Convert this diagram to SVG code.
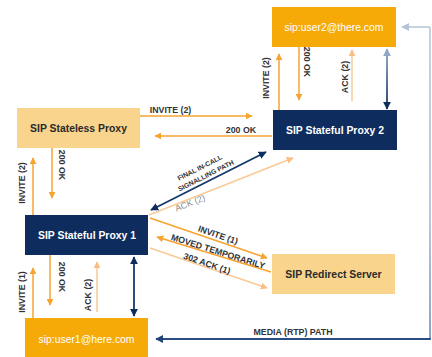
<svg xmlns="http://www.w3.org/2000/svg" width="432" height="357" viewBox="0 0 432 357">
<style>
.user{fill:#F6AA08}
.light{fill:#F9D48C}
.navy{fill:#0E2D5E}
.bt{font-family:"Liberation Sans",Arial,sans-serif;font-size:10.4px;text-anchor:middle}
.wt{fill:#fff}
.b{font-weight:bold}
.dk{fill:#2a2a2a}
.lbl{font-family:"Liberation Sans",Arial,sans-serif;font-size:8.8px;font-weight:bold;fill:#333;text-anchor:middle}
.sm{font-family:"Liberation Sans",Arial,sans-serif;font-size:6.8px;font-weight:bold;fill:#333;text-anchor:middle}
.o{stroke:#F6A330;stroke-width:1.5;fill:none}
.lo{stroke:#FAC996;stroke-width:1.5;fill:none}
.n{stroke:#14386C;stroke-width:1.8;fill:none}
</style>
<defs>
<marker id="mo" viewBox="0 0 10 10" refX="9" refY="5" markerWidth="7" markerHeight="7" markerUnits="userSpaceOnUse" orient="auto"><path d="M0,0 L10,5 L0,10 z" fill="#F6A330"/></marker>
<marker id="ml" viewBox="0 0 10 10" refX="9" refY="5" markerWidth="7" markerHeight="7" markerUnits="userSpaceOnUse" orient="auto"><path d="M0,0 L10,5 L0,10 z" fill="#F9BE80"/></marker>
<marker id="mn" viewBox="0 0 10 10" refX="9" refY="5" markerWidth="8" markerHeight="8" markerUnits="userSpaceOnUse" orient="auto-start-reverse"><path d="M0,0 L10,5 L0,10 z" fill="#0E2D5E"/></marker>
<marker id="mb" viewBox="0 0 10 10" refX="9" refY="5" markerWidth="8" markerHeight="8" markerUnits="userSpaceOnUse" orient="auto-start-reverse"><path d="M0,0 L10,5 L0,10 z" fill="#8FA7C6"/></marker>
<marker id="mm" viewBox="0 0 10 10" refX="9" refY="5" markerWidth="8" markerHeight="8" markerUnits="userSpaceOnUse" orient="auto"><path d="M0,0 L10,5 L0,10 z" fill="#1E4478"/></marker>
<marker id="mp" viewBox="0 0 10 10" refX="9" refY="5" markerWidth="8" markerHeight="8" markerUnits="userSpaceOnUse" orient="auto"><path d="M0,0 L10,5 L0,10 z" fill="#B4C4D8"/></marker>
<linearGradient id="g1" gradientUnits="userSpaceOnUse" x1="0" y1="48" x2="0" y2="110"><stop offset="0" stop-color="#8FA7C6"/><stop offset="1" stop-color="#0E2D5E"/></linearGradient>
<linearGradient id="g2" gradientUnits="userSpaceOnUse" x1="0" y1="339" x2="0" y2="27"><stop offset="0" stop-color="#6E8BB1"/><stop offset="0.4" stop-color="#A9BBD1"/><stop offset="1" stop-color="#B9C7D9"/></linearGradient>
</defs>

<g id="user2"><rect class="user" x="272" y="7" width="124" height="40"/><text class="bt wt" x="334" y="30.5">sip:user2@there.com</text></g>
<g id="proxy2"><rect class="navy" x="273" y="110" width="124" height="40"/><text class="bt wt b" x="335" y="133.5">SIP Stateful Proxy 2</text></g>
<g id="stateless"><rect class="light" x="17" y="108" width="123" height="40"/><text class="bt dk b" x="78.5" y="131.5">SIP Stateless Proxy</text></g>
<g id="proxy1"><rect class="navy" x="25" y="215" width="123" height="40"/><text class="bt wt b" x="87" y="238.5">SIP Stateful Proxy 1</text></g>
<g id="user1"><rect class="user" x="25" y="318" width="123" height="42"/><text class="bt wt" x="86.5" y="343">sip:user1@here.com</text></g>
<g id="redirect"><rect class="light" x="272" y="254" width="123" height="40"/><text class="bt dk b" x="333.5" y="277.5">SIP Redirect Server</text></g>

<g id="connectors">
<line x1="387" y1="49" x2="387" y2="109" stroke="url(#g1)" stroke-width="1.8" marker-start="url(#mb)" marker-end="url(#mn)"/>
<line class="o" x1="279" y1="110" x2="279" y2="54" marker-end="url(#mo)"/>
<text class="lbl" transform="translate(268.5,78) rotate(-90)">INVITE (2)</text>
<line class="o" x1="299" y1="47" x2="299" y2="100" marker-end="url(#mo)"/>
<text class="lbl" transform="translate(303.5,62) rotate(90)">200 OK</text>
<line class="lo" x1="352" y1="101" x2="352" y2="50" marker-end="url(#ml)"/>
<text class="lbl" transform="translate(347.5,77) rotate(-90)">ACK (2)</text>

<line class="o" x1="140" y1="116" x2="252" y2="116" marker-end="url(#mo)"/>
<text class="lbl" x="170.5" y="113">INVITE (2)</text>
<line class="o" x1="272" y1="136" x2="155" y2="136" marker-end="url(#mo)"/>
<text class="lbl" x="241" y="133">200 OK</text>

<line class="o" x1="52" y1="148" x2="52" y2="198" marker-end="url(#mo)"/>
<text class="lbl" transform="translate(58.5,165) rotate(90)">200 OK</text>
<line class="o" x1="33" y1="215" x2="33" y2="158" marker-end="url(#mo)"/>
<text class="lbl" transform="translate(25,183) rotate(-90)">INVITE (2)</text>

<line class="n" x1="151" y1="210" x2="266" y2="152" marker-start="url(#mn)" marker-end="url(#mn)"/>
<text class="sm" transform="translate(200,168) rotate(-26.8)" y="2">FINAL IN-CALL</text>
<text class="sm" transform="translate(206,176) rotate(-26.8)" y="2">SIGNALLING PATH</text>
<line class="lo" x1="149" y1="215" x2="293" y2="158" marker-end="url(#ml)"/>
<text class="lbl" style="fill:#8a8a8a;font-weight:normal" transform="translate(190,203) rotate(-21.6)" y="3">ACK (2)</text>

<line class="o" x1="150" y1="218" x2="267" y2="258" marker-end="url(#mo)"/>
<text class="lbl" transform="translate(218,235) rotate(18.9)" y="3">INVITE (1)</text>
<line class="o" x1="271" y1="272" x2="157" y2="237" marker-end="url(#mo)"/>
<text class="lbl" transform="translate(218,251.5) rotate(17.5)" y="3">MOVED TEMPORARILY</text>
<line class="lo" x1="150" y1="248" x2="267" y2="288" marker-end="url(#ml)"/>
<text class="lbl" transform="translate(207,263.5) rotate(18.9)" y="3">302 ACK (1)</text>

<line class="o" x1="33" y1="318" x2="33" y2="268" marker-end="url(#mo)"/>
<text class="lbl" transform="translate(25,292) rotate(-90)">INVITE (1)</text>
<line class="o" x1="50" y1="255" x2="50" y2="305" marker-end="url(#mo)"/>
<text class="lbl" transform="translate(58.5,277) rotate(90)">200 OK</text>
<line class="lo" x1="97" y1="312" x2="97" y2="262" marker-end="url(#ml)"/>
<text class="lbl" transform="translate(90.5,295) rotate(-90)">ACK (2)</text>
<line class="n" x1="134" y1="257" x2="134" y2="316" marker-start="url(#mn)" marker-end="url(#mn)"/>

<path d="M430,339 V27" stroke="url(#g2)" stroke-width="1.6" fill="none"/>
<path d="M430,27 H402" stroke="#B9C7D9" stroke-width="1.6" fill="none" marker-end="url(#mp)"/>
<path d="M430.8,339 H156" stroke="#2A4C80" stroke-width="1.8" fill="none" marker-end="url(#mm)"/>
<text class="lbl" x="293" y="335">MEDIA (RTP) PATH</text>
</g>
</svg>
